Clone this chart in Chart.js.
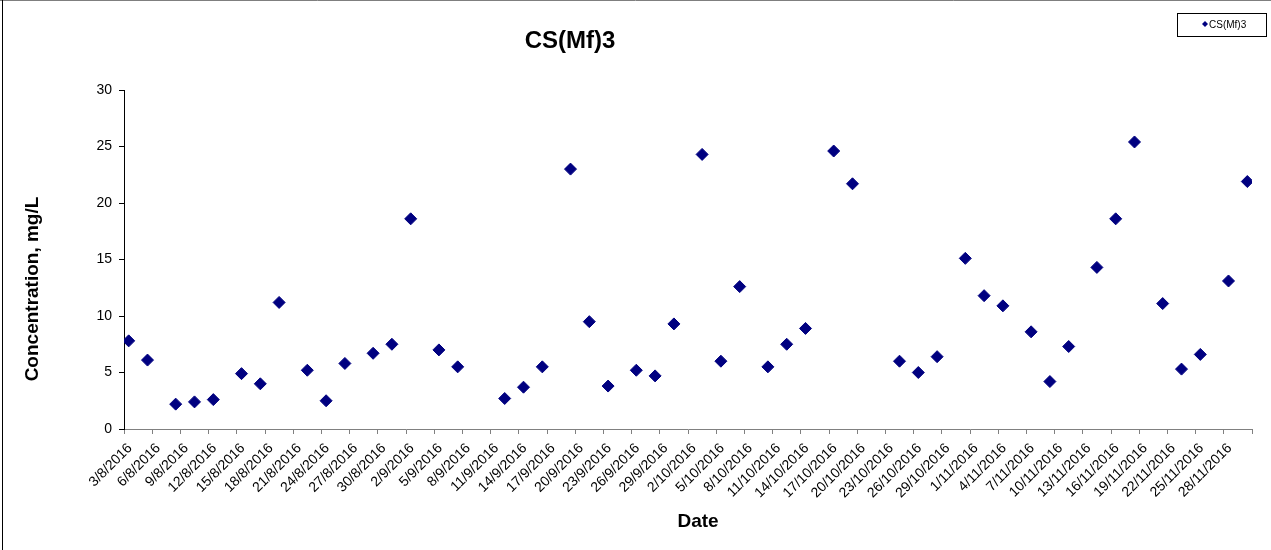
<!DOCTYPE html>
<html><head><meta charset="utf-8">
<script src="https://cdn.jsdelivr.net/npm/chart.js@4.4.0/dist/chart.umd.min.js"></script>
<style>html,body{margin:0;padding:0;background:#fff}#wrap{width:1271px;height:550px;position:relative;background:#fff}</style>
</head><body><div id="wrap"><canvas id="c" width="1271" height="550"></canvas></div>
<script>
const chartTitle = 'CS(Mf)3';
const seriesName = 'CS(Mf)3';
const xAxisTitle = 'Date';
const yAxisTitle = 'Concentration, mg/L';

const sampleDates = [
  '3/8/2016','5/8/2016','8/8/2016','10/8/2016','12/8/2016','15/8/2016','17/8/2016','19/8/2016',
  '22/8/2016','24/8/2016','26/8/2016','29/8/2016','31/8/2016',
  '2/9/2016','5/9/2016','7/9/2016','12/9/2016','14/9/2016','16/9/2016','19/9/2016','21/9/2016',
  '23/9/2016','26/9/2016','28/9/2016','30/9/2016',
  '3/10/2016','5/10/2016','7/10/2016','10/10/2016','12/10/2016','14/10/2016','17/10/2016','19/10/2016',
  '24/10/2016','26/10/2016','28/10/2016','31/10/2016',
  '2/11/2016','4/11/2016','7/11/2016','9/11/2016','11/11/2016','14/11/2016','16/11/2016','18/11/2016',
  '21/11/2016','23/11/2016','25/11/2016','28/11/2016','30/11/2016'
];
const concentrations = [
  7.8, 6.1, 2.2, 2.4, 2.6, 4.9, 4.0, 11.2,
  5.2, 2.5, 5.8, 6.7, 7.5,
  18.6, 7.0, 5.5, 2.7, 3.7, 5.5, 23.0, 9.5,
  3.8, 5.2, 4.7, 9.3,
  24.3, 6.0, 12.6, 5.5, 7.5, 8.9, 24.6, 21.7,
  6.0, 5.0, 6.4, 15.1,
  11.8, 10.9, 8.6, 4.2, 7.3, 14.3, 18.6, 25.4,
  11.1, 5.3, 6.6, 13.1, 21.9
];
const xTickLabels = [
  '3/8/2016','6/8/2016','9/8/2016','12/8/2016','15/8/2016','18/8/2016','21/8/2016','24/8/2016',
  '27/8/2016','30/8/2016','2/9/2016','5/9/2016','8/9/2016','11/9/2016','14/9/2016','17/9/2016',
  '20/9/2016','23/9/2016','26/9/2016','29/9/2016','2/10/2016','5/10/2016','8/10/2016','11/10/2016',
  '14/10/2016','17/10/2016','20/10/2016','23/10/2016','26/10/2016','29/10/2016','1/11/2016','4/11/2016',
  '7/11/2016','10/11/2016','13/11/2016','16/11/2016','19/11/2016','22/11/2016','25/11/2016','28/11/2016'
];
const axisEndDate = '1/12/2016';
const yTicks = [0, 5, 10, 15, 20, 25, 30];

function dayIndex(s) {
  const p = s.split('/').map(Number);
  const t = Date.UTC(p[2], p[1] - 1, p[0]);
  const p0 = xTickLabels[0].split('/').map(Number);
  return Math.round((t - Date.UTC(p0[2], p0[1] - 1, p0[0])) / 86400000);
}
const xMax = dayIndex(axisEndDate);
const tickDays = xTickLabels.map(dayIndex);
const points = sampleDates.map((d, i) => ({ x: dayIndex(d) + 0.5, y: concentrations[i] }));

const FONT = "'Liberation Sans', Arial, sans-serif";
const COLOR = '#000080';

const decor = {
  id: 'decor',
  afterDraw(chart) {
    const ctx = chart.ctx;
    ctx.save();
    ctx.strokeStyle = '#7f7f7f'; ctx.lineWidth = 1;
    ctx.beginPath(); ctx.moveTo(0, 0.5); ctx.lineTo(1271, 0.5); ctx.stroke();
    ctx.strokeStyle = '#000';
    ctx.beginPath(); ctx.moveTo(2.5, 0); ctx.lineTo(2.5, 550); ctx.stroke();
    ctx.fillStyle = '#000';
    ctx.textAlign = 'center'; ctx.textBaseline = 'middle';
    ctx.font = 'bold 24px ' + FONT;
    ctx.fillText(chartTitle, 570, 41);
    ctx.font = 'bold 19px ' + FONT;
    ctx.fillText(xAxisTitle, 698, 522);
    ctx.save();
    ctx.translate(33, 289); ctx.rotate(-Math.PI / 2);
    ctx.fillText(yAxisTitle, 0, 0);
    ctx.restore();
    ctx.strokeStyle = '#000'; ctx.lineWidth = 1;
    ctx.strokeRect(1177.5, 13.5, 89, 23);
    const ds = chart.data.datasets[0];
    ctx.fillStyle = ds.backgroundColor;
    ctx.beginPath();
    ctx.moveTo(1205, 21); ctx.lineTo(1208, 24); ctx.lineTo(1205, 27); ctx.lineTo(1202, 24); ctx.closePath();
    ctx.fill();
    ctx.fillStyle = '#000';
    ctx.font = '10px ' + FONT; ctx.textAlign = 'left';
    ctx.fillText(ds.label, 1209, 25);
    ctx.restore();
  }
};

new Chart(document.getElementById('c'), {
  type: 'scatter',
  data: {
    datasets: [{
      label: seriesName,
      data: points,
      pointStyle: 'rectRot',
      pointRadius: 6,
      pointHoverRadius: 6,
      backgroundColor: COLOR,
      borderColor: COLOR,
      borderWidth: 1
    }]
  },
  options: {
    responsive: false,
    animation: false,
    devicePixelRatio: 1,
    layout: { padding: { left: 50, right: 19, top: 90, bottom: 0 } },
    plugins: { legend: { display: false }, title: { display: false }, tooltip: { enabled: false } },
    scales: {
      x: {
        type: 'linear', min: 0, max: xMax,
        afterBuildTicks: s => { s.ticks = tickDays.concat([xMax]).map(v => ({ value: v })); },
        ticks: {
          autoSkip: false, maxRotation: 45, minRotation: 45, padding: 6, labelOffset: 6,
          color: '#000', font: { family: FONT, size: 14 },
          callback: (v) => { const i = tickDays.indexOf(v); return i >= 0 ? xTickLabels[i] : ''; }
        },
        grid: { drawOnChartArea: false, drawTicks: true, tickLength: 5, color: '#808080' },
        border: { color: '#808080', width: 1 },
        afterFit: s => { s.height = 121; }
      },
      y: {
        min: 0, max: 30,
        afterBuildTicks: s => { s.ticks = yTicks.map(v => ({ value: v })); },
        ticks: { color: '#000', font: { family: FONT, size: 14 }, padding: 7 },
        grid: { drawOnChartArea: false, drawTicks: true, tickLength: 5, color: '#000' },
        border: { color: '#000', width: 1 },
        afterFit: s => { s.width = 74; }
      }
    }
  },
  plugins: [decor]
});
</script></body></html>
